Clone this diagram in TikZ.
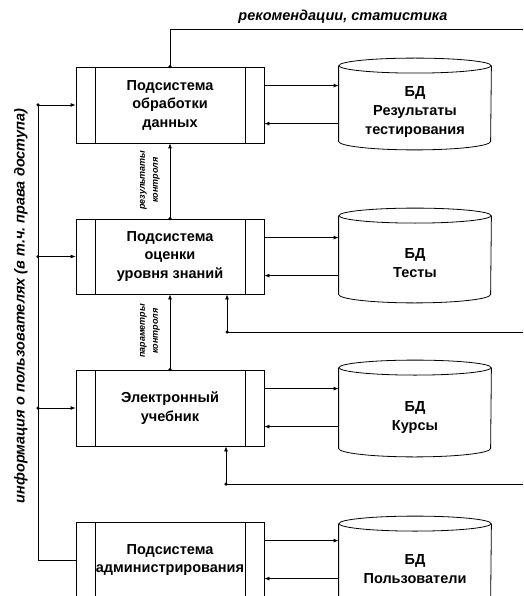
\documentclass[tikz,border=0pt]{standalone}
\usepackage{fontspec}
\setmainfont{Liberation Sans}
\usetikzlibrary{arrows.meta}
\frenchspacing
\begin{document}
\begin{tikzpicture}[x=1pt,y=-1pt,
  line width=0.8pt,
  arr/.style={-{Latex[length=5pt,width=4pt]}},
  dot/.style={circle,fill,inner sep=0pt,minimum size=3.5pt},
  box/.style={draw,minimum width=188pt,minimum height=76pt,inner sep=0pt,
    align=center,font=\fontsize{14.5}{18.5}\selectfont\bfseries,
    path picture={
      \draw ([xshift=19pt]path picture bounding box.north west) -- ([xshift=19pt]path picture bounding box.south west);
      \draw ([xshift=-19pt]path picture bounding box.north east) -- ([xshift=-19pt]path picture bounding box.south east);
    }},
  cyl/.style={minimum width=152pt,inner sep=0pt},
  cyltext/.style={align=center,font=\fontsize{14.5}{19}\selectfont\bfseries},
  lbl/.style={font=\fontsize{14.5}{16}\selectfont\bfseries\itshape},
  small/.style={align=center,rotate=90,font=\fontsize{9}{13}\selectfont\bfseries\itshape}
]
\useasboundingbox (0,0) rectangle (523,596);

% boxes
\node[box] (b1) at (170,105) {Подсистема\\обработки\\данных};
\node[box,minimum height=75pt] (b2) at (170,256.5) {Подсистема\\оценки\\уровня знаний};
\node[box] (b3) at (170,408) {Электронный\\учебник};
\node[box] (b4) at (170,560) {Подсистема\\администрирования};

% cylinders
\node[cyl,minimum height=75pt] (c1) at (415,103.5) {};
\node[cyl,minimum height=78pt] (c2) at (415,255) {};
\node[cyl,minimum height=80pt] (c3) at (415,408) {};
\node[cyl,minimum height=80pt] (c4) at (415,564) {};
\foreach \c in {c1,c2,c3,c4}{
  \draw (\c.north west) -- (\c.south west)
        arc[start angle=180,end angle=360,x radius=76pt,y radius=8.5pt]
        -- (\c.north east);
  \draw (\c.north) ellipse[x radius=76pt,y radius=7.5pt];
}
\node[cyltext] (t1) at (415,112) {БД\\Результаты\\тестирования};
\node[cyltext] (t2) at (415,263) {БД\\Тесты};
\node[cyltext] (t3) at (415,418) {БД\\Курсы};
\node[cyltext] (t4) at (415,569) {БД\\Пользователи};

% box <-> cylinder arrows
\foreach \b/\c in {b1/c1,b2/c2,b3/c3,b4/c4}{
  \path ([yshift=-19pt]\b.north east) coordinate (\b o)
        ([yshift=-57pt]\b.north east) coordinate (\b i);
  \draw[arr] (\b o) -- (\b o -| \c.west);
  \draw[arr] (\b i -| \c.west) -- (\b i);
}

% left bus
\coordinate (bus) at (38,0);
\draw (bus |- b1.west) -- (bus |- b4.west) -- (b4.west);
\foreach \b in {b1,b2,b3}{
  \draw[arr] (bus |- \b.west) -- (\b.west);
  \node[dot] (d\b) at (bus |- \b.west) {};
}
\node[lbl,rotate=90] (side) at (21,306) {информация о пользователях (в т.ч. права доступа)};

% vertical arrows between boxes
\draw[arr] (b2.north) -- (b1.south);
\node[dot] (db2) at (b2.north) {};
\draw[arr] (b3.north) -- (b2.south);
\node[dot] (db3) at (b3.north) {};
\node[small] (l1) at (150,180) {результаты\\контроля};
\node[small] (l2) at (150,331) {параметры\\контроля};

% top output
\coordinate (topr) at (523,29);
\draw (b1.north) |- (topr);
\node[dot] (db1) at (b1.north) {};
\node[lbl] (toplbl) at (343,17) {рекомендации, статистика};

% external inputs
\coordinate (f2) at (523,332);
\coordinate (f2d) at (227,332);
\draw[arr] (f2) -- (f2d) -- (f2d |- b2.south);
\node[dot] (df2) at (f2d) {};
\coordinate (f3) at (523,484);
\coordinate (f3d) at (226,484);
\draw[arr] (f3) -- (f3d) -- (f3d |- b3.south);
\node[dot] (df3) at (f3d) {};
\end{tikzpicture}
\end{document}
